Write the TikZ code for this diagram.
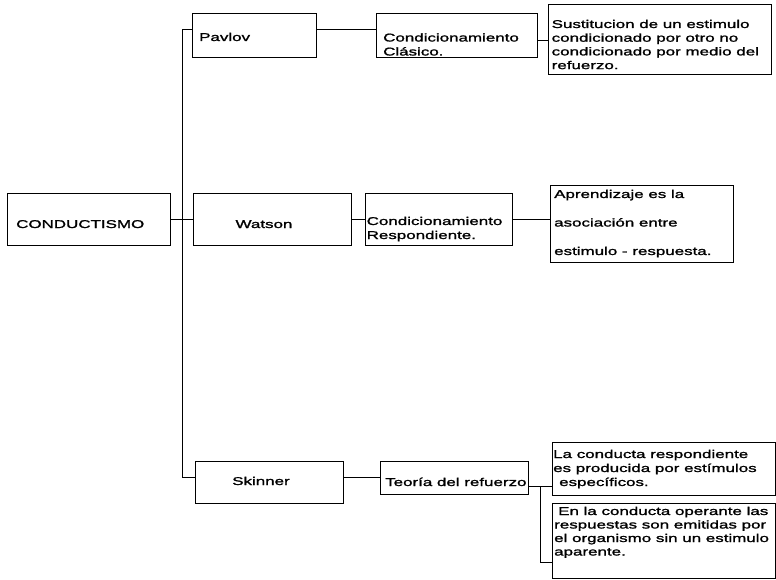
\documentclass[tikz,border=0pt]{standalone}
\usepackage{fontspec}
\setmainfont{Liberation Sans}[FakeStretch=1.5,FakeBold=1.5]
\newcommand\blk[2][14pt]{\vtop{\baselineskip=#1\lineskiplimit=-20pt\halign{##\hfil\cr#2\crcr}}}
\begin{document}
\begin{tikzpicture}[x=1pt,y=-1pt,
  box/.style={draw,line width=0.9pt,anchor=north west,inner sep=0pt,minimum width=#1},
  box/.default=100pt,
  txt/.style={anchor=base west,inner sep=0pt,font=\fontsize{11.3}{14}\selectfont},
  ctxt/.style={anchor=base,inner sep=0pt,font=\fontsize{11.3}{14}\selectfont},
  link/.style={draw,line width=1pt}]
\useasboundingbox (0,0) rectangle (776,580);
% boxes
\node[box=163pt,minimum height=52pt] (cond) at (7,193) {};
\node[box=124pt,minimum height=44pt] (pav) at (192,13) {};
\node[box=158pt,minimum height=52pt] (wat) at (193,193) {};
\node[box=148pt,minimum height=42pt] (ski) at (195,461) {};
\node[box=161pt,minimum height=44pt] (clas) at (376,13) {};
\node[box=147pt,minimum height=52pt] (resp) at (365,193) {};
\node[box=148pt,minimum height=33pt] (teo) at (380,461) {};
\node[box=223pt,minimum height=70pt] (sus) at (548,4) {};
\node[box=183pt,minimum height=77pt] (apr) at (550,185) {};
\node[box=223pt,minimum height=53pt] (lac) at (552,442) {};
\node[box=223pt,minimum height=75pt] (enla) at (552,503) {};
% texts
\node[txt] (tcond) at (16,228) {CONDUCTISMO};
\node[txt] (tpav) at (199,41) {Pavlov};
\node[ctxt] (twat) at (264,228) {Watson};
\node[ctxt] (tski) at (261,485) {Skinner};
\node[txt] (tclas) at (383,41.5) {\blk{Condicionamiento\cr Clásico.}};
\node[txt] (tresp) at (366.5,225) {\blk{Condicionamiento\cr Respondiente.}};
\node[txt] (tteo) at (385,486) {Teoría del refuerzo};
\node[txt] (tsus) at (551.5,28) {\blk[13.7pt]{Sustitucion de un estimulo\cr condicionado por otro no\cr condicionado por medio del\cr refuerzo.}};
\node[txt] (tapr) at (554,198) {\blk[28.5pt]{Aprendizaje es la\cr asociación entre\cr estimulo - respuesta.}};
\node[txt] (tlac) at (553,458) {\blk{La conducta respondiente\cr es producida por estímulos\cr \kern6pt específicos.}};
\node[txt] (tenla) at (554,515) {\blk[13.5pt]{\kern4pt En la conducta operante las\cr respuestas son emitidas por\cr el organismo sin un estimulo\cr aparente.}};
% connectors
\coordinate (tt) at (182,30);
\coordinate (tb) at (182,477);
\coordinate (j1) at (540,486);
\coordinate (j2) at (540,562);
\draw[link] (cond.east) -- (cond.east -| tt);
\draw[link] (tt) -- (tb);
\draw[link] (tt) -- (tt -| pav.west);
\draw[link] (wat.west -| tt) -- (wat.west);
\draw[link] (tb) -- (tb -| ski.west);
\draw[link] (tt -| pav.east) -- (tt -| clas.west);
\draw[link] ([yshift=-5pt]clas.east) -- ([yshift=-5pt]clas.east -| sus.west);
\draw[link] (wat.east) -- (resp.west);
\draw[link] (resp.east) -- (resp.east -| apr.west);
\draw[link] (teo.west -| ski.east) -- (teo.west);
\draw[link] (j1 -| teo.east) -- (j1 -| lac.west);
\draw[link] (j1) -- (j2) -- (j2 -| enla.west);
\end{tikzpicture}
\end{document}
